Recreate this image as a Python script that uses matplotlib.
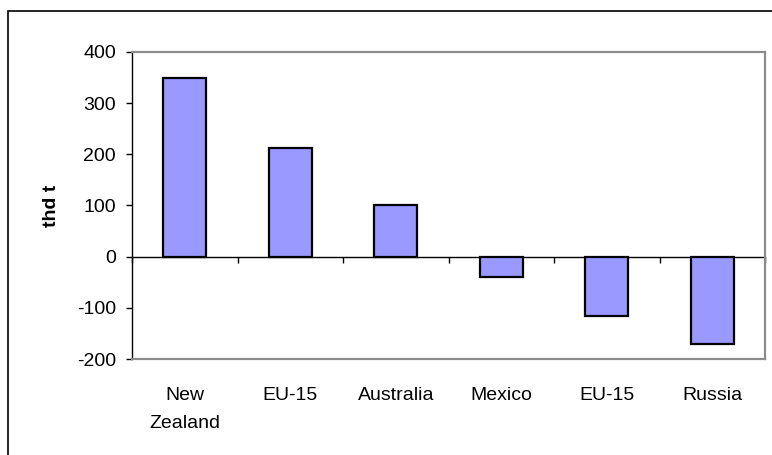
import matplotlib
matplotlib.use("Agg")
import matplotlib.pyplot as plt
from matplotlib.patches import Rectangle
import numpy as np

categories = ["New\nZealand", "EU-15", "Australia", "Mexico", "EU-15", "Russia"]
values = [350, 212, 100, -40, -115, -170]
y_ticks = [-200, -100, 0, 100, 200, 300, 400]

plt.rcParams["font.family"] = ["Liberation Sans", "DejaVu Sans"]
plt.rcParams["axes.unicode_minus"] = False

fig = plt.figure(figsize=(7.72, 4.55), dpi=100)
fig.patch.set_facecolor("white")

# outer chart frame (runs off the right and bottom edges)
fig.patches.append(Rectangle((8 / 772, -0.1), 1.2, 1 - 10.5 / 455 + 0.1,
                             transform=fig.transFigure, fill=False,
                             edgecolor="black", linewidth=1.2, zorder=0))

ax = fig.add_axes([132 / 772, 1 - 359 / 455, (765 - 132) / 772, (359 - 52) / 455])

x = np.arange(len(categories))
ax.bar(x, values, width=0.41, color="#9999FF", edgecolor="black",
       linewidth=1.6, zorder=3)

ax.set_xlim(-0.5, len(categories) - 0.5)
ax.set_ylim(-200, 400)
ax.set_yticks(y_ticks)
ax.tick_params(axis="y", direction="out", length=4.5, width=1, pad=7,
               labelsize=14, colors="black")
ax.set_xticks(x)
ax.set_xticklabels(categories, fontsize=14, linespacing=1.85)
ax.tick_params(axis="x", length=0, pad=20)

for side in ("top", "right", "bottom"):
    ax.spines[side].set_color("#8c8c8c")
    ax.spines[side].set_linewidth(1.6)
ax.spines["left"].set_color("black")
ax.spines["left"].set_linewidth(1.0)

# zero line with category-boundary tick marks
zero_frac = (0 - (-200)) / 600
zax = ax.secondary_xaxis(zero_frac)
zax.set_xticks(np.arange(len(categories) + 1) - 0.5)
zax.set_xticklabels([])
zax.xaxis.set_ticks_position("bottom")
zax.tick_params(axis="x", direction="out", length=4.5, width=1,
                labelbottom=False, labeltop=False, bottom=True, top=False)
zax.spines["bottom"].set_color("black")
zax.spines["bottom"].set_linewidth(1.0)
zax.spines["top"].set_visible(False)

ax.set_ylabel("thd t", fontsize=14, fontweight="bold", labelpad=12)

fig.savefig("out.png", dpi=100, facecolor="white")
